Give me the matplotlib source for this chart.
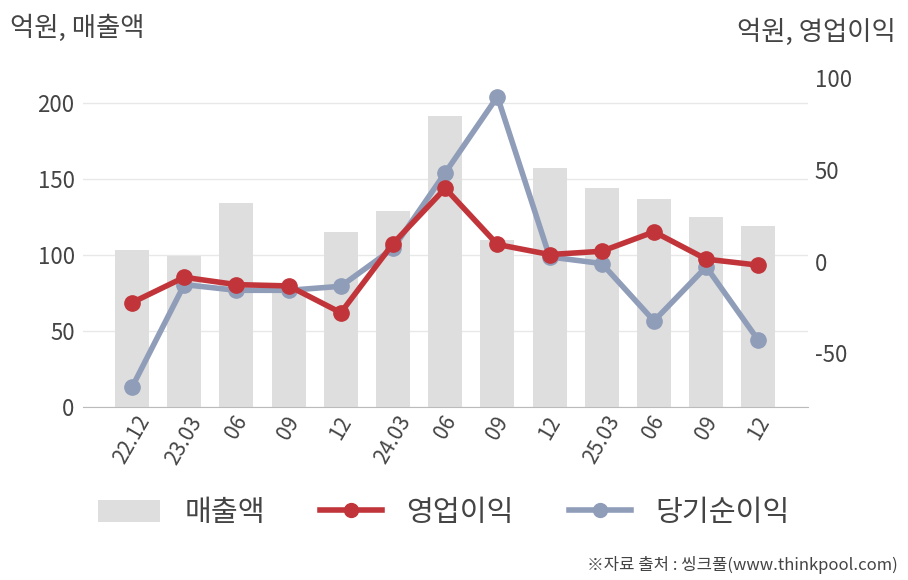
import matplotlib
matplotlib.use("Agg")
import matplotlib.pyplot as plt
from matplotlib.lines import Line2D
from matplotlib.patches import Patch

plt.rcParams['font.family'] = ['Noto Sans CJK KR', 'DejaVu Sans']
plt.rcParams['axes.unicode_minus'] = False

# quarters
quarters = ["22.12", "23.03", "06", "09", "12", "24.03", "06", "09", "12",
            "25.03", "06", "09", "12"]
# 억원
sales = [103, 99, 134, 77, 115, 129, 191.5, 110, 157, 144, 137, 125, 119]
op_profit = [-22.3, -8.5, -12.5, -13.2, -27.8, 9.9, 40, 9.4, 3.9, 5.7, 16.3,
             1.4, -1.9]
net_income = [-68.4, -12.5, -15.6, -15.6, -13.4, 7.2, 48.5, 90, 2.6, -1.0,
              -32.3, -2.8, -42.9]

TXT = "#444444"
BAR = "#dedede"
RED = "#c1353a"
BLUE = "#8f9db9"

fig = plt.figure(figsize=(9.08, 5.8), dpi=100)
W, H = 908, 580
ax = fig.add_axes([83 / W, 1 - 406.5 / H, (808 - 83) / W, (406.5 - 65) / H])
ax2 = ax.twinx()

x = list(range(len(quarters)))
ax.bar(x, sales, width=0.65, color=BAR, zorder=1)
ax.set_ylim(0, (406.5 - 65) / 1.516)
ax.set_xlim(-0.94, 12.95)
ax.set_yticks([0, 50, 100, 150, 200])
ax.grid(axis='y', color='#e8e8e8', linewidth=1)
ax.set_axisbelow(True)

px_per = 91.7 / 50
ax2.set_ylim((261.7 - 406.5) / px_per, (261.7 - 65) / px_per)
ax2.set_yticks([-50, 0, 50, 100])
ax2.plot(x, op_profit, color=RED, lw=4, marker='o', ms=11, zorder=4)
ax2.plot(x, net_income, color=BLUE, lw=4, marker='o', ms=11, zorder=3)
ax2.set_zorder(ax.get_zorder() + 1)
ax2.patch.set_visible(False)

ax.set_xticks(x)
ax.set_xticklabels(quarters, rotation=60, fontsize=15, color=TXT)
ax.tick_params(axis='x', length=0, pad=4)
ax.tick_params(axis='y', length=0, labelsize=16, labelcolor=TXT, pad=6)
ax2.tick_params(axis='y', length=0, labelsize=16, labelcolor=TXT, pad=5)

for a in (ax, ax2):
    for s in ('top', 'right', 'left', 'bottom'):
        a.spines[s].set_visible(False)
ax.spines['bottom'].set_visible(True)
ax.spines['bottom'].set_color('#bbbbbb')

fig.text(10 / W, 1 - 28 / H, "억원, 매출액", fontsize=19, color=TXT,
         ha='left', va='center')
fig.text(896 / W, 1 - 32 / H, "억원, 영업이익", fontsize=19, color=TXT,
         ha='right', va='center')

handles = [
    Patch(facecolor=BAR, edgecolor='none'),
    Line2D([], [], color=RED, lw=4, marker='o', ms=10),
    Line2D([], [], color=BLUE, lw=4, marker='o', ms=10),
]
fig.legend(handles, ["매출액", "영업이익", "당기순이익"], loc='center',
           bbox_to_anchor=(444 / W, 1 - 513 / H), ncol=3, frameon=False,
           fontsize=21, labelcolor=TXT, handlelength=2.1, handleheight=0.8,
           handletextpad=0.85, columnspacing=1.9)

fig.text(898 / W, 1 - 565 / H, "※자료 출처 : 씽크풀(www.thinkpool.com)",
         fontsize=12, color=TXT, ha='right', va='center')

fig.savefig("out.png", dpi=100)
